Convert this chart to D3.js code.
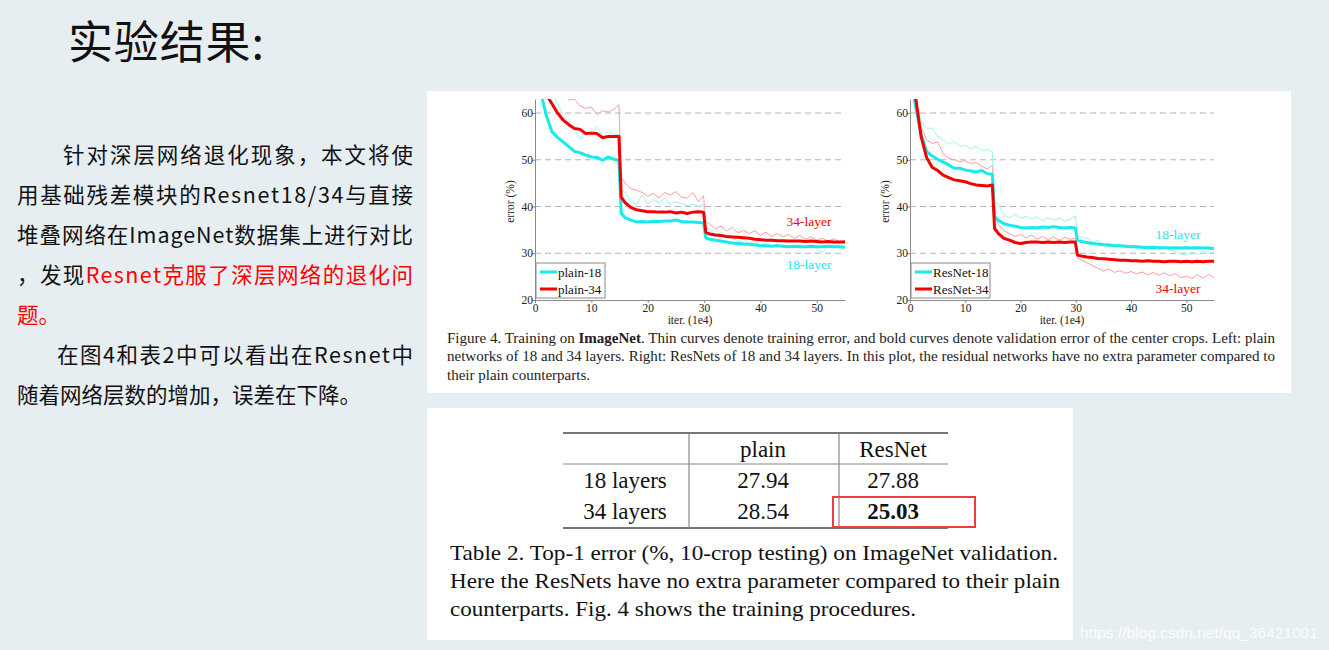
<!DOCTYPE html>
<html>
<head>
<meta charset="utf-8">
<script src="https://cdn.jsdelivr.net/npm/d3@7"></script>
<style>
    body { margin: 0; background: #e7eef2; }
    svg { display: block; }
</style>
</head>
<body>
<svg id="slide" width="1329" height="650"></svg>
<script>
// iterations (1e4), shared by every curve
const iters = [0.5, 1, 2, 3, 4, 5, 6, 7, 8, 9, 10, 11, 12, 13, 14, 14.9, 15.3,
    16, 17, 18, 19, 20, 21, 22, 23, 24, 25, 26, 27, 28, 29, 29.9, 30.3,
    31, 32, 33, 34, 35, 36, 37, 38, 39, 40, 41, 42, 43, 44, 45, 46, 47, 48, 49, 50, 51, 52, 53, 54, 55];

// left: plain nets
const plain18Val = [70, 64.5, 59.5, 56, 54.8, 53.8, 52.8, 51.8, 51.5, 51.0, 50.6, 50.5, 49.9, 50.6, 50.1, 49.9, 38.5,
    37.6, 37.1, 36.7, 36.8, 36.7, 36.8, 36.8, 36.9, 36.9, 37.1, 36.8, 36.7, 36.7, 36.6, 36.5, 33.3,
    33.0, 32.8, 32.6, 32.4, 32.2, 32.1, 32.0, 31.9, 31.8, 31.6, 31.6, 31.5, 31.6, 31.5, 31.4, 31.5, 31.4, 31.4, 31.5, 31.4, 31.4, 31.5, 31.4, 31.4, 31.3];
const plain34Val = [72, 68, 64, 62, 60, 58.5, 57.5, 56.7, 56.5, 55.6, 55.7, 55.6, 54.7, 55.0, 55.0, 55.0, 42.0,
    40.8, 39.8, 39.3, 39.1, 38.9, 38.9, 38.8, 38.8, 38.9, 38.6, 38.8, 38.5, 38.8, 38.9, 38.8, 34.5,
    34.1, 33.9, 33.8, 33.6, 33.5, 33.4, 33.3, 33.2, 33.0, 32.9, 32.8, 32.8, 32.7, 32.7, 32.6, 32.6, 32.6, 32.5, 32.6, 32.5, 32.4, 32.5, 32.4, 32.4, 32.4];
const plain18Train = [72, 70, 67, 64, 62, 59.5, 58.0, 56.5, 54.5, 56.0, 55.5, 57.0, 55.0, 56.0, 55.3, 55.5, 43.5,
    43.0, 41.0, 40.5, 42.5, 40.5, 41.5, 40.8, 41.8, 40.5, 41.0, 40.6, 40.2, 40.5, 40.0, 40.5, 35.5,
    35.0, 34.0, 34.5, 33.2, 33.5, 32.5, 33.0, 32.2, 32.5, 31.8, 32.3, 31.5, 32.0, 31.2, 31.8, 31.4, 31.9, 31.3, 31.7, 31.0, 30.2, 31.5, 31.2, 31.6, 31.3];
const plain34Train = [78, 75, 71, 68, 66, 64, 62.8, 63.0, 61.5, 61.0, 61.3, 59.7, 60.5, 60.2, 60.8, 61.8, 46.3,
    45.0, 43.8, 43.5, 43.0, 42.2, 42.8, 41.8, 43.0, 42.5, 43.2, 42.0, 41.8, 43.0, 41.0, 42.3, 36.8,
    36.2, 35.2, 35.8, 34.8, 35.5, 34.3, 34.9, 34.2, 34.8, 33.8, 34.5, 33.6, 34.2, 33.5, 34.0, 33.2, 33.8, 33.0, 33.5, 32.8, 33.2, 32.6, 33.1, 32.5, 32.7];

// right: residual nets
const res18Val = [66, 61.5, 55.5, 51.8, 50.8, 50.1, 49.5, 48.9, 48.2, 48.2, 47.8, 47.6, 47.4, 47.7, 47.0, 46.9, 37.9,
    37.0, 36.3, 36.0, 35.8, 35.5, 35.4, 35.5, 35.4, 35.6, 35.5, 35.7, 35.5, 35.4, 35.5, 35.4, 32.8,
    32.5, 32.3, 32.1, 32.0, 31.8, 31.7, 31.6, 31.6, 31.5, 31.4, 31.4, 31.3, 31.2, 31.3, 31.2, 31.2, 31.1, 31.2, 31.1, 31.2, 31.1, 31.2, 31.1, 31.1, 31.0];
const res34Val = [70, 63.5, 55, 50.5, 48.4, 47.7, 46.7, 46.2, 45.7, 45.5, 45.3, 44.9, 44.6, 44.5, 44.4, 44.6, 35.3,
    34.2, 33.2, 32.8, 32.3, 32.1, 32.3, 32.4, 32.4, 32.3, 32.4, 32.3, 32.4, 32.3, 32.4, 32.4, 29.6,
    29.4, 29.2, 29.1, 28.9, 28.8, 28.7, 28.6, 28.5, 28.5, 28.4, 28.4, 28.3, 28.4, 28.3, 28.3, 28.2, 28.3, 28.3, 28.2, 28.3, 28.2, 28.3, 28.2, 28.3, 28.3];
const res18Train = [68, 63, 58.5, 56.7, 56.8, 55.0, 54.2, 53.3, 53.9, 52.8, 53.1, 52.3, 52.9, 51.9, 52.2, 51.7, 41.0,
    40.5, 38.2, 37.6, 38.3, 37.5, 37.9, 37.3, 37.8, 37.0, 37.6, 37.1, 37.5, 36.9, 37.3, 38.0, 34.0,
    33.5, 33.2, 32.4, 32.8, 31.9, 32.2, 31.6, 31.9, 31.3, 31.6, 31.0, 31.4, 30.9, 31.3, 30.8, 31.2, 30.7, 30.4, 29.8, 29.6, 30.2, 29.8, 30.5, 30.0, 30.3];
const res34Train = [70, 63, 57, 54.3, 53.5, 53.8, 51.3, 50.3, 50.0, 49.6, 49.8, 49.2, 49.4, 48.6, 48.0, 48.8, 37.5,
    36.2, 34.8, 34.2, 33.6, 34.0, 33.3, 33.9, 33.0, 33.6, 32.9, 33.5, 32.8, 33.4, 33.0, 33.2, 29.0,
    28.6, 28.0, 27.4, 26.8, 26.2, 26.6, 25.9, 26.3, 25.7, 26.1, 25.6, 26.0, 25.4, 25.9, 25.3, 25.8, 25.2, 25.6, 24.8, 25.1, 24.6, 25.4, 24.7, 25.5, 24.8];

const xTicks = [0, 10, 20, 30, 40, 50];
const yTicks = [20, 30, 40, 50, 60];
const gridTicks = [30, 40, 50, 60];

// table 2
const tableCols = ["plain", "ResNet"];
const tableRows = ["18 layers", "34 layers"];
const tableVals = [["27.94", "27.88"], ["28.54", "25.03"]];

const SERIF = "'Liberation Serif', 'Times New Roman', serif";
const CJK = "'Noto Sans CJK SC', 'Noto Sans', sans-serif";
const CYAN = "#16eaec", RED = "#f50000";
const CYAN_THIN = "#9ef3f3", RED_THIN = "#ff9d9d";

const svg = d3.select("#slide");

svg.append("rect").attr("width", 1329).attr("height", 650).attr("fill", "#e7eef2");

// white paper panels
svg.append("rect").attr("x", 427).attr("y", 91).attr("width", 864).attr("height", 302).attr("fill", "#fff");
svg.append("rect").attr("x", 427).attr("y", 408).attr("width", 646).attr("height", 232).attr("fill", "#fff");

class CurvePanel {
    constructor(svg, id) {
        this._svg = svg;
        this._id = id;
        this._box = null;
        this._series = [];
        this._legend = [];
        this._notes = [];
    }

    position(x0, x1, y0, y1) {
        return arguments.length ? (this._box = { x0, x1, y0, y1 }, this) : this._box;
    }

    series(values, color, width) {
        this._series.push({ values, color, width });
        return this;
    }

    legend(items, w) {
        this._legend = items;
        this._legendW = w;
        return this;
    }

    note(text, color, value) {
        this._notes.push({ text, color, value });
        return this;
    }

    render() {
        const b = this._box;
        const x = d3.scaleLinear().domain([0, 55]).range([b.x0, b.x1]);
        const y = d3.scaleLinear().domain([20, 63]).range([b.y1, b.y0]);
        const g = this._svg.append("g");

        g.append("clipPath").attr("id", this._id)
            .append("rect")
            .attr("x", b.x0).attr("y", b.y0)
            .attr("width", b.x1 - b.x0).attr("height", b.y1 - b.y0);

        g.selectAll("line.grid").data(gridTicks).join("line")
            .attr("class", "grid")
            .attr("x1", b.x0).attr("x2", b.x1)
            .attr("y1", d => y(d)).attr("y2", d => y(d))
            .attr("stroke", "#b4b4b4").attr("stroke-dasharray", "6,4");

        const line = d3.line().x((d, i) => x(iters[i])).y(d => y(d));
        const plot = g.append("g").attr("clip-path", `url(#${this._id})`);
        this._series.forEach(s => {
            plot.append("path")
                .attr("d", line(s.values))
                .attr("fill", "none")
                .attr("stroke", s.color)
                .attr("stroke-width", s.width)
                .attr("stroke-linejoin", "round");
        });

        const ax = g.append("g")
            .attr("transform", `translate(0,${b.y1})`)
            .call(d3.axisBottom(x).tickValues(xTicks).tickSize(3).tickSizeOuter(0));
        const ay = g.append("g")
            .attr("transform", `translate(${b.x0},0)`)
            .call(d3.axisLeft(y).tickValues(yTicks).tickSize(3).tickSizeOuter(0));
        [ax, ay].forEach(a => {
            a.select(".domain").attr("stroke", "#8a8a8a");
            a.selectAll(".tick line").attr("stroke", "#8a8a8a");
            a.selectAll(".tick text")
                .attr("font-family", SERIF).attr("font-size", 11.5).attr("fill", "#222");
        });
        ax.selectAll(".tick text").attr("dy", "0.5em");
        ay.selectAll(".tick text").attr("x", -2);

        g.append("text")
            .attr("transform", `translate(${b.x0 - 21},${(b.y0 + b.y1) / 2 + 2}) rotate(-90)`)
            .attr("text-anchor", "middle")
            .attr("font-family", SERIF).attr("font-size", 11.5).attr("fill", "#222")
            .text("error (%)");

        g.append("text")
            .attr("x", (b.x0 + b.x1) / 2).attr("y", b.y1 + 24)
            .attr("text-anchor", "middle")
            .attr("font-family", SERIF).attr("font-size", 11.5).attr("fill", "#222")
            .text("iter. (1e4)");

        this._notes.forEach(n => {
            g.append("text")
                .attr("x", b.x1 - 36).attr("y", y(n.value))
                .attr("text-anchor", "middle")
                .attr("font-family", SERIF).attr("font-size", 13.5).attr("fill", n.color)
                .text(n.text);
        });

        const lg = g.append("g").attr("transform", `translate(${b.x0 + 1},${b.y1 - 37})`);
        lg.append("rect")
            .attr("width", this._legendW).attr("height", 35)
            .attr("fill", "#fff").attr("stroke", "#8a8a8a");
        this._legend.forEach((item, i) => {
            const ly = 9 + i * 17;
            lg.append("line")
                .attr("x1", 4).attr("x2", 21).attr("y1", ly).attr("y2", ly)
                .attr("stroke", item.color).attr("stroke-width", 3);
            lg.append("text")
                .attr("x", 22).attr("y", ly + 4.5)
                .attr("font-family", SERIF).attr("font-size", 13).attr("fill", "#111")
                .text(item.label);
        });
    }
}

new CurvePanel(svg, "clipL")
    .position(535, 845, 99, 300)
    .series(plain34Train, RED_THIN, 1)
    .series(plain18Train, CYAN_THIN, 1)
    .series(plain18Val, CYAN, 3)
    .series(plain34Val, RED, 3)
    .note("34-layer", RED, 35.8)
    .note("18-layer", CYAN, 26.6)
    .legend([{ label: "plain-18", color: CYAN }, { label: "plain-34", color: RED }], 69)
    .render();

new CurvePanel(svg, "clipR")
    .position(910, 1214, 99, 300)
    .series(res34Train, RED_THIN, 1)
    .series(res18Train, CYAN_THIN, 1)
    .series(res18Val, CYAN, 3)
    .series(res34Val, RED, 3)
    .note("18-layer", CYAN, 33.1)
    .note("34-layer", RED, 21.6)
    .legend([{ label: "ResNet-18", color: CYAN }, { label: "ResNet-34", color: RED }], 79)
    .render();

// figure caption
const capLines = [
    { y: 343, len: 828, parts: [["Figure 4. Training on ", false], ["ImageNet", true], [". Thin curves denote training error, and bold curves denote validation error of the center crops. Left: plain", false]] },
    { y: 361, len: 828, parts: [["networks of 18 and 34 layers. Right: ResNets of 18 and 34 layers. In this plot, the residual networks have no extra parameter compared to", false]] },
    { y: 380, len: 143, parts: [["their plain counterparts.", false]] }
];
capLines.forEach(l => {
    const t = svg.append("text")
        .attr("x", 447).attr("y", l.y)
        .attr("font-family", SERIF).attr("font-size", 14).attr("fill", "#222")
        .attr("textLength", l.len).attr("lengthAdjust", "spacingAndGlyphs");
    l.parts.forEach(p => t.append("tspan").attr("font-weight", p[1] ? "bold" : null).text(p[0]));
});

// table 2
const colX = [625, 763, 893];
const rowY = [457, 488, 519];
const tg = svg.append("g").attr("font-family", SERIF).attr("font-size", 23).attr("fill", "#111");
tg.append("line").attr("x1", 563).attr("x2", 948).attr("y1", 433).attr("y2", 433).attr("stroke", "#777").attr("stroke-width", 2);
tg.append("line").attr("x1", 563).attr("x2", 948).attr("y1", 464).attr("y2", 464).attr("stroke", "#888").attr("stroke-width", 1);
tg.append("line").attr("x1", 563).attr("x2", 948).attr("y1", 528).attr("y2", 528).attr("stroke", "#777").attr("stroke-width", 2);
[689, 839].forEach(vx => {
    tg.append("line").attr("x1", vx).attr("x2", vx).attr("y1", 433).attr("y2", 528).attr("stroke", "#888").attr("stroke-width", 1.2);
});
tableCols.forEach((c, i) => {
    tg.append("text").attr("x", colX[i + 1]).attr("y", rowY[0]).attr("text-anchor", "middle").text(c);
});
tableRows.forEach((r, j) => {
    tg.append("text").attr("x", colX[0]).attr("y", rowY[j + 1]).attr("text-anchor", "middle").text(r);
    tableVals[j].forEach((v, i) => {
        tg.append("text")
            .attr("x", colX[i + 1]).attr("y", rowY[j + 1])
            .attr("text-anchor", "middle")
            .attr("font-weight", j === 1 && i === 1 ? "bold" : null)
            .text(v);
    });
});
svg.append("rect")
    .attr("x", 833).attr("y", 497).attr("width", 142).attr("height", 30)
    .attr("fill", "none").attr("stroke", "#f03c3c").attr("stroke-width", 2);

const tableCap = [
    { text: "Table 2. Top-1 error (%, 10-crop testing) on ImageNet validation.", len: 608 },
    { text: "Here the ResNets have no extra parameter compared to their plain", len: 610 },
    { text: "counterparts. Fig. 4 shows the training procedures.", len: 466 }
];
tableCap.forEach((t, i) => {
    svg.append("text")
        .attr("x", 450).attr("y", 560 + i * 28)
        .attr("font-family", SERIF).attr("font-size", 21).attr("fill", "#111")
        .attr("textLength", t.len).attr("lengthAdjust", "spacingAndGlyphs")
        .text(t.text);
});

// slide text
svg.append("text")
    .attr("x", 68).attr("y", 59)
    .attr("font-family", CJK).attr("font-size", 45).attr("fill", "#111")
    .attr("textLength", 196).attr("lengthAdjust", "spacing")
    .text("实验结果:");

const paraLines = [
    { x: 63, len: 350, parts: [["针对深层网络退化现象，本文将使", "#111"]] },
    { x: 17, len: 396, parts: [["用基础残差模块的Resnet18/34与直接", "#111"]] },
    { x: 17, len: 396, parts: [["堆叠网络在ImageNet数据集上进行对比", "#111"]] },
    { x: 17, len: 396, parts: [["，发现", "#111"], ["Resnet克服了深层网络的退化问", "#ff0000"]] },
    { x: 17, len: null, parts: [["题。", "#ff0000"]] },
    { x: 57, len: 356, parts: [["在图4和表2中可以看出在Resnet中", "#111"]] },
    { x: 17, len: null, parts: [["随着网络层数的增加，误差在下降。", "#111"]] }
];
paraLines.forEach((l, i) => {
    const t = svg.append("text")
        .attr("x", l.x).attr("y", 163 + i * 40)
        .attr("font-family", CJK).attr("font-size", 21.5);
    if (l.len) t.attr("textLength", l.len).attr("lengthAdjust", "spacing");
    l.parts.forEach(p => t.append("tspan").attr("fill", p[1]).text(p[0]));
});

svg.append("text")
    .attr("x", 1080).attr("y", 638)
    .attr("font-family", "'Liberation Sans', Arial, sans-serif").attr("font-size", 15.5)
    .attr("fill", "#ffffff").attr("fill-opacity", 0.85)
    .text("https://blog.csdn.net/qq_36421001");
</script>
</body>
</html>
